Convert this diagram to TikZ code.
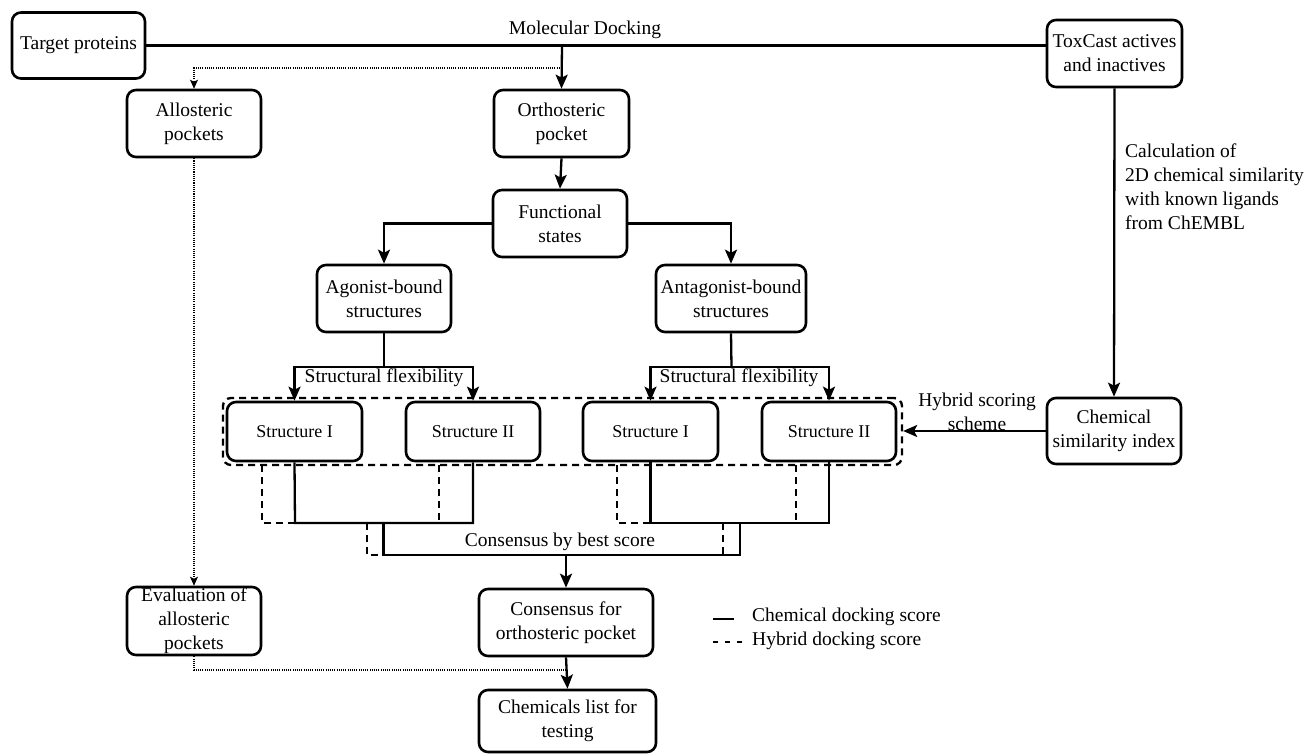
\documentclass[tikz,border=0pt]{standalone}
\usepackage{fontspec}
\setmainfont{Liberation Serif}
\newfontfamily\tnr{Liberation Serif}
\usetikzlibrary{arrows.meta}
\begin{document}
\begin{tikzpicture}[x=1pt,y=-1pt,
  box/.style={draw, line width=2.6pt, rounded corners=9pt, align=center, inner sep=0pt, font=\tnr\fontsize{19.5}{24}\selectfont},
  sbox/.style={box, font=\tnr\fontsize{18}{22}\selectfont},
  conn/.style={line width=2.3pt},
  arr/.style={conn, -{Stealth[length=14pt,width=12pt,inset=3pt]}},
  dot/.style={line width=1.1pt, dash pattern=on 1.1pt off 1.1pt},
  darr/.style={dot, -{Stealth[length=9pt,width=8pt,inset=2pt]}},
  dsh/.style={line width=2.3pt, dash pattern=on 7pt off 5pt},
  lbl/.style={font=\tnr\fontsize{19.5}{24}\selectfont, align=center, inner sep=0pt}]
\useasboundingbox (0,0) rectangle (1311,754);

% nodes
\node[box, minimum width=133pt, minimum height=66pt] (tp) at (78.5,45.5) {Target proteins};
\node[box, minimum width=135pt, minimum height=67pt] (tc) at (1114.5,53.5) {ToxCast actives\\and inactives};
\node[box, minimum width=135pt, minimum height=67pt] (orth) at (561.5,123.5) {Orthosteric\\pocket};
\node[box, minimum width=134pt, minimum height=67pt] (allo) at (194,123.5) {Allosteric\\pockets};
\node[box, minimum width=134pt, minimum height=67pt] (func) at (560,223.5) {Functional\\states};
\node[box, minimum width=134pt, minimum height=67pt] (ago) at (384,298.5) {Agonist-bound\\structures};
\node[box, minimum width=150pt, minimum height=67pt] (ant) at (731,298.5) {Antagonist-bound\\structures};
\node[sbox, minimum width=135pt, minimum height=59pt] (s1a) at (294.5,431.5) {Structure I};
\node[sbox, minimum width=134pt, minimum height=59pt] (s2a) at (473,431.5) {Structure II};
\node[sbox, minimum width=135pt, minimum height=59pt] (s1b) at (650.5,431.5) {Structure I};
\node[sbox, minimum width=134pt, minimum height=59pt] (s2b) at (829,431.5) {Structure II};
\node[box, minimum width=134pt, minimum height=66pt] (csi) at (1114,431) {Chemical\\similarity index};
\node[box, minimum width=134pt, minimum height=68pt] (evalp) at (194,621) {Evaluation of\\allosteric\\pockets};
\node[box, minimum width=174pt, minimum height=67pt] (cons) at (566,622.5) {Consensus for\\orthosteric pocket};
\node[box, minimum width=177pt, minimum height=62pt] (chem) at (567.5,721) {Chemicals list for\\testing};

% dashed group box
\node[draw, dsh, rounded corners=8pt, minimum width=679pt, minimum height=67pt, inner sep=0pt] (grp) at (562.5,431.5) {};

% labels
\node[lbl] (mdl) at (585,30) {Molecular Docking};
\node[lbl, align=left, anchor=north west] (calc) at (1125,144) {Calculation of\\2D chemical similarity\\with known ligands\\from ChEMBL};
\node[lbl] (hyb) at (977,412) {Hybrid scoring\\scheme};
\node[lbl] (sfa) at (384,378) {Structural flexibility};
\node[lbl] (sfb) at (739,378) {Structural flexibility};
\node[lbl] (cbs) at (560,542) {Consensus by best score};

% coordinates
\coordinate (md) at (562,45.5);
\coordinate (dj) at (562,68);
\coordinate (agoj) at (384,367);
\coordinate (antj) at (731.5,367);
\coordinate (la) at (295,523);
\coordinate (ra) at (473,523);
\coordinate (lb) at (650.5,523);
\coordinate (rb) at (829,523);
\coordinate (ma) at (383.5,523);
\coordinate (mb) at (740,523);
\coordinate (ca) at (383.5,555);
\coordinate (cb) at (740,555);
\coordinate (cm) at (566,555);
\coordinate (ej) at (194,670);
\coordinate (ek) at (566,670);

% top line and docking arrow
\draw[conn] (tp.east) -- (tp.east -| tc.west);
\draw[arr] (md) -- (orth.north);
\draw[darr] (dj) -| (allo.north);
\draw[arr] (orth.south) -- (func.north);
\draw[arr] (func.west) -| (ago.north);
\draw[arr] (func.east) -| (ant.north);

% structural flexibility brackets
\draw[conn] (ago.south) -- (agoj);
\draw[arr] (agoj) -| (s1a.north);
\draw[arr] (agoj) -| (s2a.north);
\draw[conn] (ant.south) -- (antj);
\draw[arr] (antj) -| (s1b.north);
\draw[arr] (antj) -| (s2b.north);

% chemical similarity
\draw[arr] (tc.south) -- (csi.north);
\draw[arr] (csi.west) -- (csi.west -| grp.east);

% consensus brackets - solid
\draw[conn] (s1a.south) -- (la) -- (ra) -- (s2a.south);
\draw[conn] (s1b.south) -- (lb) -- (rb) -- (s2b.south);
\draw[conn] (ma) -- (ca) -- (cb) -- (mb);
% consensus brackets - dashed
\draw[dsh] (262,465) -- (262,523) -- (la);
\draw[dsh] (439,465) -- (439,523);
\draw[dsh] (617,465) -- (617,523) -- (lb);
\draw[dsh] (796,465) -- (796,523);
\draw[dsh] (367,523) -- (367,555) -- (ca);
\draw[dsh] (723,523) -- (723,555);

\draw[arr] (cm) -- (cons.north);
\draw[arr] (cons.south) -- (chem.north);

% allosteric path
\draw[darr] (allo.south) -- (evalp.north);
\draw[dot] (evalp.south) -- (ej) -- (ek);

% legend
\coordinate (l1a) at (713,619);
\coordinate (l1b) at (734,619);
\coordinate (l2a) at (713,642);
\coordinate (l2b) at (742,642);
\draw[line width=2.4pt] (l1a) -- (l1b);
\draw[line width=1.6pt, dash pattern=on 5pt off 7pt] (l2a) -- (l2b);
\node[lbl, anchor=west] (leg1) at (752,617) {Chemical docking score};
\node[lbl, anchor=west] (leg2) at (752,641) {Hybrid docking score};
\end{tikzpicture}
\end{document}
